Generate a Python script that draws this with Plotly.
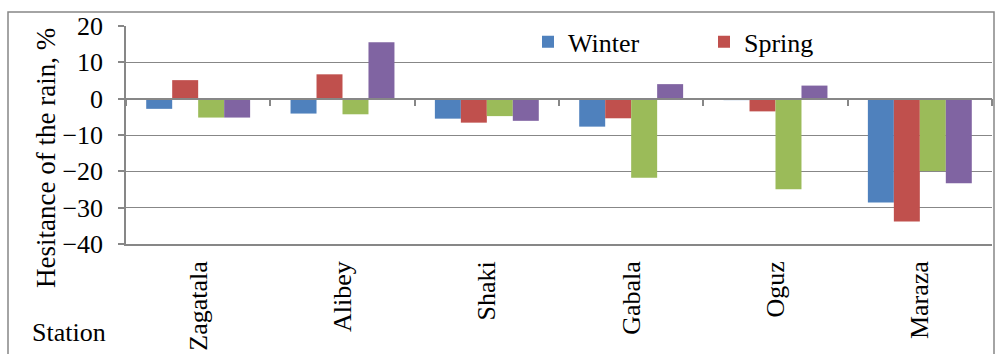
import plotly.graph_objects as go

stations = ["Zagatala", "Alibey", "Shaki", "Gabala", "Oguz", "Maraza"]
winter = [-2.8, -4.1, -5.5, -7.7, -0.4, -28.6]
spring = [5.1, 6.7, -6.6, -5.4, -3.5, -33.8]
summer = [-5.2, -4.3, -4.8, -21.8, -24.9, -19.9]
autumn = [-5.2, 15.5, -6.1, 4.0, 3.6, -23.3]
y_ticks = [20, 10, 0, -10, -20, -30, -40]

FONT = "'Liberation Serif', 'Times New Roman', 'DejaVu Serif', serif"
GRID = "#878787"
ymin, ymax = min(y_ticks), max(y_ticks)

fig = go.Figure()
series = [
    ("Winter", winter, "#4F81BD", True),
    ("Spring", spring, "#C0504D", True),
    ("Summer", summer, "#9BBB59", False),
    ("Autumn", autumn, "#8064A2", False),
]
for name, vals, col, leg in series:
    fig.add_trace(go.Bar(x=stations, y=vals, name=name, marker_color=col,
                         marker_line_width=0, showlegend=leg))

# invisible helper trace for the axis drawn at zero
fig.add_trace(go.Scatter(x=stations, y=[0] * len(stations), xaxis="x2", mode="none",
                         showlegend=False, hoverinfo="skip"))

# plot area pixels: x 126..992, y 26..245.7
L, R, T, B = 126, 992, 26, 245.7
W, H = R - L, B - T
px = lambda x: (x - L) / W
py = lambda y: (B - y) / H

fig.update_layout(
    width=995, height=354,
    margin=dict(l=L, r=995 - R, t=T, b=354 - B, pad=0),
    paper_bgcolor="white", plot_bgcolor="white",
    barmode="group", bargap=0.28, bargroupgap=0,
    font=dict(family=FONT, size=26, color="black"),
    xaxis=dict(type="category", categoryorder="array", categoryarray=stations,
               range=[-0.5, len(stations) - 0.5], showgrid=False, showline=True,
               linecolor=GRID, linewidth=1.5,
               ticks="", tickangle=-90, tickfont=dict(family=FONT, size=26),
               ticklabelstandoff=5, zeroline=False),
    xaxis2=dict(type="category", categoryorder="array", categoryarray=stations,
                range=[-0.5, len(stations) - 0.5], overlaying="x", anchor="free",
                position=(0 - ymin) / (ymax - ymin), side="bottom",
                showticklabels=False, showgrid=False, showline=True,
                linecolor=GRID, linewidth=1.5, ticks="outside", ticklen=7,
                tickwidth=1.5, tickcolor=GRID, tickson="boundaries", zeroline=False),
    yaxis=dict(range=[ymin, ymax], tickvals=y_ticks, showgrid=True, gridcolor=GRID,
               gridwidth=1.4, showline=True, linecolor=GRID, linewidth=1.5,
               ticks="outside", ticklen=6, tickwidth=1.5, tickcolor=GRID,
               zeroline=False, tickfont=dict(family=FONT, size=26),
               ticklabelstandoff=10),
    legend=dict(orientation="h", x=px(528), xanchor="left", y=py(42), yanchor="middle",
                font=dict(family=FONT, size=26), bgcolor="rgba(0,0,0,0)",
                entrywidthmode="pixels", entrywidth=131, traceorder="normal"),
    annotations=[
        dict(text="Hesitance of the rain, %", xref="paper", yref="paper",
             x=px(46), y=py(159), xanchor="center", yanchor="middle",
             textangle=-90, showarrow=False, font=dict(family=FONT, size=27)),
        dict(text="Station", xref="paper", yref="paper", x=px(30), y=py(335),
             xanchor="left", yanchor="middle", showarrow=False,
             font=dict(family=FONT, size=26)),
    ],
    shapes=[
        dict(type="rect", xref="paper", yref="paper", x0=px(8), x1=px(994),
             y0=py(400), y1=py(12), line=dict(color=GRID, width=1.5),
             fillcolor="rgba(0,0,0,0)", layer="below"),
    ],
)

fig.write_html("out.html", config={"displayModeBar": False},
               post_script="document.body.style.margin='0';document.body.style.overflow='hidden';")
